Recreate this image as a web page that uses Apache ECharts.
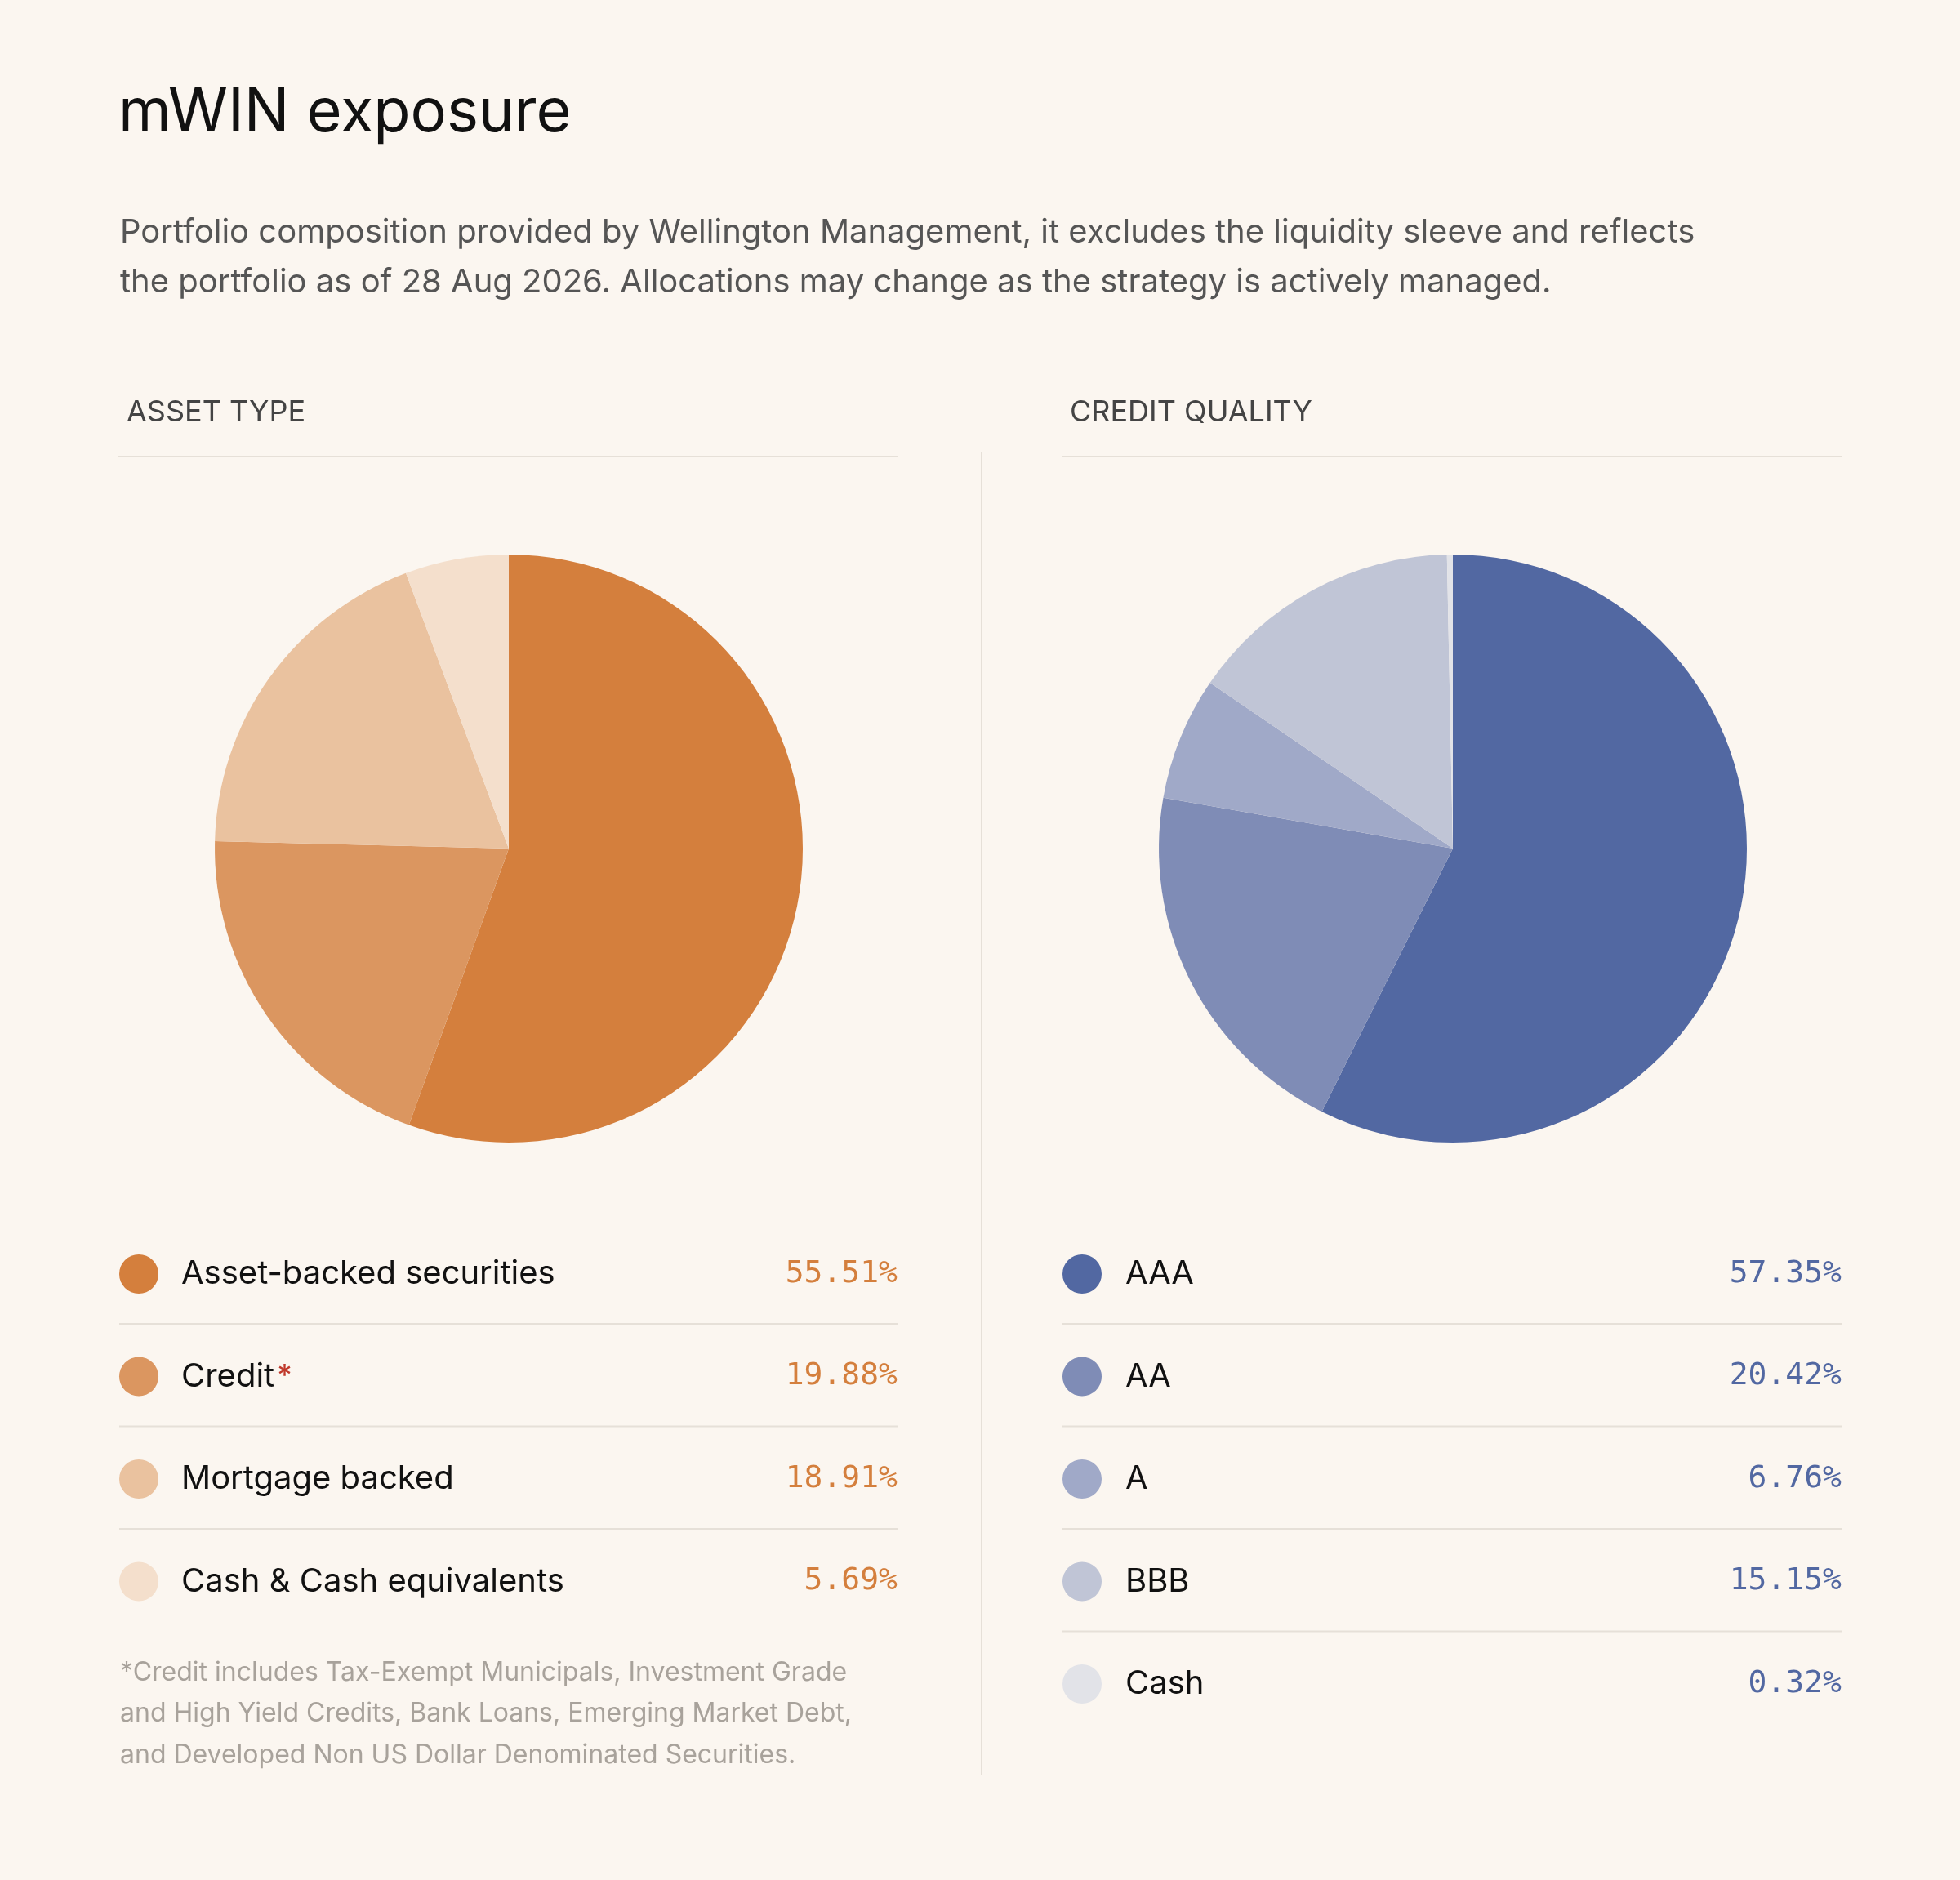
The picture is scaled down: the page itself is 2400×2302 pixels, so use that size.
<!DOCTYPE html>
<html><head><meta charset="utf-8">
<script src="https://cdn.jsdelivr.net/npm/echarts@6/dist/echarts.min.js"></script>
<style>html,body{margin:0;background:#FBF6F0}#c{width:2400px;height:2302px}</style></head>
<body><div id="c"></div>
<script>
const assetNames = ['Asset-backed securities','Credit','Mortgage backed','Cash & Cash equivalents'];
const assetValues = [55.51,19.88,18.91,5.69];
const assetColors = ['#D47F3D','#DB9660','#EAC29F','#F4DFCC'];
const creditNames = ['AAA','AA','A','BBB','Cash'];
const creditValues = [57.35,20.42,6.76,15.15,0.32];
const creditColors = ['#5268A2','#7F8CB6','#A0A9C8','#C0C5D6','#E2E3E8'];
const font = 'Inter, "Noto Sans", sans-serif';
const mono = '"DejaVu Sans Mono", "Liberation Mono", monospace';
const chart = echarts.init(document.getElementById('c'));
const g = [];
function txt(x,y,text,size,color,extra){g.push(Object.assign({type:'text',x,y,style:Object.assign({text,fontSize:size,fill:color,fontFamily:font,verticalAlign:'middle'},extra||{})}));}
function line(x1,y1,x2,y2){g.push({type:'line',shape:{x1,y1,x2,y2},style:{stroke:'#E6E0D8',lineWidth:2}});}
txt(145,176,'mWIN exposure',74,'#111',{verticalAlign:'bottom'});
txt(147,285,'Portfolio composition provided by Wellington Management, it excludes the liquidity sleeve and reflects',40,'#555');
txt(147,346,'the portfolio as of 28 Aug 2026. Allocations may change as the strategy is actively managed.',40,'#555');
txt(155,505,'ASSET TYPE',36,'#444');
txt(1310,505,'CREDIT QUALITY',36,'#444');
line(145,559,1099,559); line(1301,559,2255,559); line(1202,554,1202,2173);
function legend(names,vals,colors,cx,lx,rx,valColor){
  names.forEach((n,i)=>{
    const y=1560+i*125.5;
    g.push({type:'circle',shape:{cx,cy:y,r:24},style:{fill:colors[i]}});
    if(n==='Credit'){
      g.push({type:'text',x:lx,y,style:{text:'{a|Credit} {b|*}',verticalAlign:'middle',rich:{a:{fontSize:40,fill:'#111',fontFamily:font},b:{fontSize:36,fill:'#C0392B',fontFamily:font}}}});
    } else txt(lx,y,n,40,'#111');
    txt(rx,y,vals[i].toFixed(2)+'%',38,valColor,{align:'right',fontFamily:mono});
    if(i<names.length-1) line(cx-24,y+61,rx,y+61);
  });
}
legend(assetNames,assetValues,assetColors,170,222,1099,'#D47F3D');
legend(creditNames,creditValues,creditColors,1325,1378,2255,'#5268A2');
['*Credit includes Tax-Exempt Municipals, Investment Grade','and High Yield Credits, Bank Loans, Emerging Market Debt,','and Developed Non US Dollar Denominated Securities.'].forEach((t,i)=>txt(147,2048+i*50.5,t,32,'#A8A29B'));
function pie(names,vals,colors,cx){return {type:'pie',center:[cx,1039],radius:[0,360],startAngle:90,clockwise:true,label:{show:false},labelLine:{show:false},silent:true,
  data:names.map((n,i)=>({name:n,value:vals[i],itemStyle:{color:colors[i]}}))};}
chart.setOption({backgroundColor:'#FBF6F0',animation:false,
  series:[pie(assetNames,assetValues,assetColors,623),pie(creditNames,creditValues,creditColors,1779)],
  graphic:g});
</script></body></html>
